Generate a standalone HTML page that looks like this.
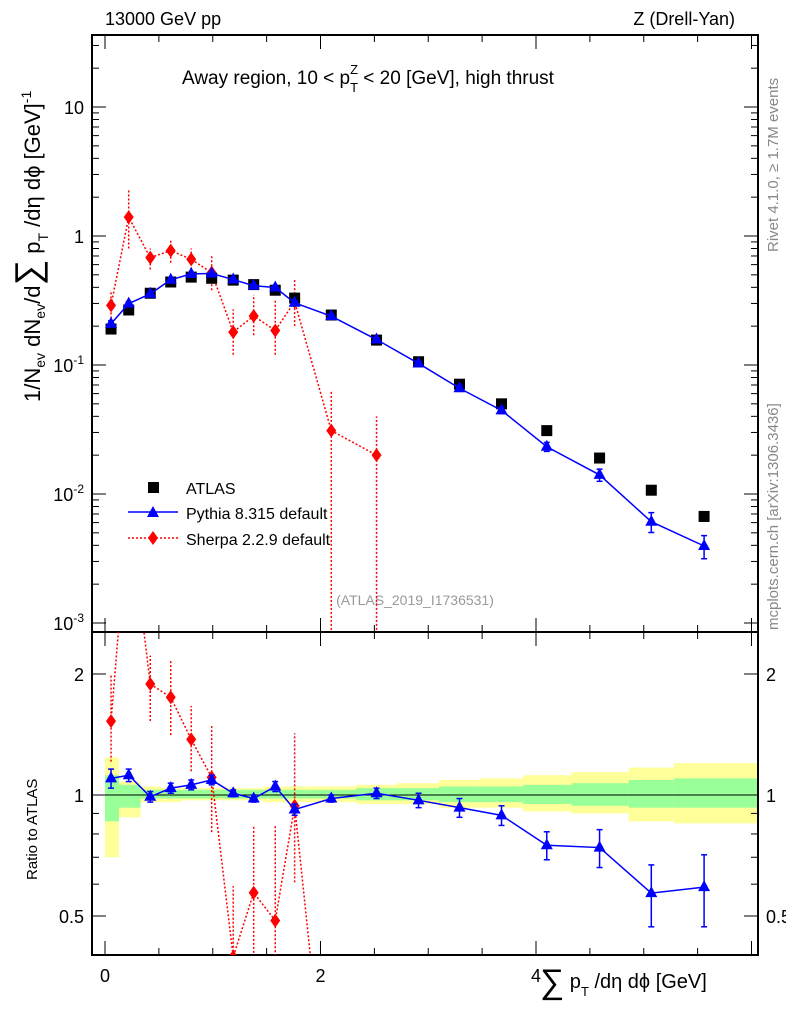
<!DOCTYPE html>
<html><head><meta charset="utf-8"><style>
body{margin:0;background:#fff;overflow:hidden}
svg text{font-family:"Liberation Sans",sans-serif}
</style></head><body>
<svg id="c" width="786" height="1024" xmlns="http://www.w3.org/2000/svg" style="display:block"></svg>
<script>
const xCenters=[0.056,0.22,0.42,0.61,0.80,0.99,1.19,1.38,1.58,1.76,2.10,2.52,2.91,3.29,3.68,4.10,4.59,5.07,5.56];
const atlasVals=[0.19,0.267,0.36,0.44,0.48,0.47,0.455,0.42,0.38,0.33,0.244,0.156,0.106,0.071,0.05,0.031,0.019,0.0107,0.0067];
const pythiaRatio=[1.10,1.12,0.99,1.04,1.06,1.09,1.01,0.98,1.05,0.92,0.98,1.01,0.97,0.93,0.89,0.75,0.74,0.57,0.59];
const pythiaRatioErr=[0.06,0.04,0.03,0.03,0.03,0.03,0.02,0.02,0.03,0.03,0.02,0.03,0.04,0.05,0.05,0.06,0.08,0.1,0.12];
const sherpaVals=[0.29,1.4,0.68,0.77,0.66,0.52,0.18,0.24,0.185,0.31,0.031,0.020];
const sherpaLo=[0.23,0.8,0.55,0.62,0.55,0.38,0.12,0.17,0.12,0.2,0.0005,0.0005];
const sherpaHi=[0.38,2.3,0.8,0.95,0.8,0.7,0.27,0.35,0.32,0.47,0.062,0.04];
const binEdges=[0,0.13,0.33,0.52,0.71,0.9,1.09,1.28,1.47,1.67,1.86,2.33,2.71,3.1,3.48,3.88,4.33,4.86,5.28,6.06];
const greenLo=[0.86,0.93,0.98,0.98,0.98,0.98,0.98,0.98,0.98,0.98,0.98,0.97,0.97,0.96,0.96,0.95,0.94,0.93,0.93];
const greenHi=[1.12,1.06,1.03,1.03,1.03,1.03,1.03,1.03,1.03,1.03,1.03,1.04,1.04,1.05,1.05,1.06,1.07,1.09,1.1];
const yellowLo=[0.70,0.88,0.96,0.96,0.97,0.97,0.97,0.97,0.96,0.96,0.96,0.95,0.95,0.93,0.93,0.91,0.90,0.86,0.85];
const yellowHi=[1.24,1.08,1.05,1.04,1.04,1.04,1.04,1.04,1.05,1.05,1.05,1.06,1.07,1.09,1.1,1.12,1.14,1.17,1.2];

const S=document.getElementById('c');const NS='http://www.w3.org/2000/svg';
function el(t,a,p){const e=document.createElementNS(NS,t);for(const k in a)e.setAttribute(k,a[k]);(p||S).appendChild(e);return e;}
const L=92,R=758,T1=35,B1=632,T2=632,B2=955;
const X=v=>105+v*107.75;
const Y=v=>236-Math.log10(v)*129;
const YR=v=>795-Math.log2(v)*121;
function txt(s,x,y,o){const e=el('text',Object.assign({x:x,y:y,'font-size':18},o||{}));e.textContent=s;return e;}

const bands=el('g',{});

for(let i=0;i<xCenters.length;i++){
 const x0=X(binEdges[i]),x1=Math.min(R,X(binEdges[i+1]));
 el('rect',{x:x0,y:YR(yellowHi[i]),width:x1-x0,height:YR(yellowLo[i])-YR(yellowHi[i]),fill:'#ffff99'},bands);
 el('rect',{x:x0,y:YR(greenHi[i]),width:x1-x0,height:YR(greenLo[i])-YR(greenHi[i]),fill:'#99ff99'},bands);
}
el('line',{x1:L,x2:R,y1:YR(1),y2:YR(1),stroke:'#000','stroke-width':1});

const defs=el('defs',{});
const c1=el('clipPath',{id:'cm'},defs);el('rect',{x:L,y:T1,width:R-L,height:B1-T1},c1);
const c2=el('clipPath',{id:'cr'},defs);el('rect',{x:L,y:T2,width:R-L,height:B2-T2},c2);

for(const [t,b,nm] of [[T1,B1,'main-plot-frame'],[T2,B2,'ratio-plot-frame']]){
 const f=el('rect',{x:L,y:t,width:R-L,height:b-t,fill:'none',stroke:'#000','stroke-width':2});
 
 for(let v=0;v<=6;v+=0.5){const x=X(v);if(x<L||x>R)continue;const len=(v%2===0)?14:7;
  el('line',{x1:x,x2:x,y1:b,y2:b-len,stroke:'#000'});el('line',{x1:x,x2:x,y1:t,y2:t+len,stroke:'#000'});}
}
for(let d=-3;d<=1;d++){for(let m=1;m<10;m++){const v=m*Math.pow(10,d);const y=Y(v);if(y<T1||y>B1)continue;const len=m===1?14:7;
 el('line',{x1:L,x2:L+len,y1:y,y2:y,stroke:'#000'});el('line',{x1:R,x2:R-len,y1:y,y2:y,stroke:'#000'});}}
for(const v of [0.4,0.5,0.6,0.7,0.8,0.9,1,2]){const y=YR(v);const len=(v===0.5||v===1||v===2)?14:7;
 el('line',{x1:L,x2:L+len,y1:y,y2:y,stroke:'#000'});el('line',{x1:R,x2:R-len,y1:y,y2:y,stroke:'#000'});}

const ylab=[['10',1],['1',0]];
for(const [s,d] of ylab){const t=txt(s,84,Y(Math.pow(10,d))+7,{'text-anchor':'end'});}
for(const d of [-1,-2,-3]){const t=el('text',{x:84,y:Y(Math.pow(10,d))+7,'font-size':18,'text-anchor':'end'});
 t.innerHTML='10<tspan dy="-8" font-size="12">'+d+'</tspan>';}
for(const v of [2,1,0.5]){txt(String(v),84,YR(v)+7,{'text-anchor':'end'});txt(String(v),766,YR(v)+7);}
for(const v of [0,2,4]){const t=txt(String(v),X(v),982,{'text-anchor':'middle'});}

txt('13000 GeV pp',105,25);
txt('Z (Drell-Yan)',735,25,{'text-anchor':'end'});
const ti=el('text',{x:182,y:84,'font-size':19});ti.innerHTML='Away region, 10 &lt; p<tspan dy="8" font-size="13">T</tspan><tspan dy="-18" font-size="13" dx="-8">Z</tspan><tspan dy="10"> &lt; 20 [GeV], high thrust</tspan>';

txt('(ATLAS_2019_I1736531)',415,605,{'text-anchor':'middle','font-size':14,fill:'#999'});
const yt=el('text',{transform:'translate(40,402) rotate(-90)','font-size':22});
yt.innerHTML='1/N<tspan dy="5" font-size="14">ev</tspan><tspan dy="-5"> dN</tspan><tspan dy="5" font-size="14">ev</tspan><tspan dy="-5">/d</tspan><tspan font-size="36">∑</tspan><tspan> p</tspan><tspan dy="8" font-size="14">T</tspan><tspan dy="-8"> /dη dϕ  [GeV]</tspan><tspan dy="-9" font-size="14">-1</tspan>';

const rt=txt('Ratio to ATLAS',37,880,{transform:'rotate(-90 37 880)','font-size':15});
const xt=el('text',{x:540,y:993,'font-size':20});
xt.innerHTML='<tspan font-size="34">∑</tspan><tspan dy="-5"> p</tspan><tspan dy="8" font-size="13">T</tspan><tspan dy="-8"> /dη dϕ [GeV]</tspan>';

txt('Rivet 4.1.0, ≥ 1.7M events',778,252,{transform:'rotate(-90 778 252)','font-size':15,fill:'#888'});
txt('mcplots.cern.ch [arXiv:1306.3436]',778,630,{transform:'rotate(-90 778 630)','font-size':15,fill:'#888'});

const gm=el('g',{'clip-path':'url(#cm)'});
const gr=el('g',{'clip-path':'url(#cr)'});
function diamond(g,x,y){el('path',{d:`M${x} ${y-7}L${x+5} ${y}L${x} ${y+7}L${x-5} ${y}Z`,fill:'#f00'},g);}
let sp='',sr='';
for(let i=0;i<sherpaVals.length;i++){const x=X(xCenters[i]);
 sp+=(i?'L':'M')+x+' '+Y(sherpaVals[i]);sr+=(i?'L':'M')+x+' '+YR(sherpaVals[i]/atlasVals[i]);
 el('line',{x1:x,x2:x,y1:Y(sherpaLo[i]),y2:Y(sherpaHi[i]),stroke:'#f00','stroke-dasharray':'2,2','stroke-width':1.5},gm);
 el('line',{x1:x,x2:x,y1:YR(sherpaLo[i]/atlasVals[i]),y2:YR(sherpaHi[i]/atlasVals[i]),stroke:'#f00','stroke-dasharray':'2,2','stroke-width':1.5},gr);}
el('path',{d:sp,fill:'none',stroke:'#f00','stroke-dasharray':'2,2','stroke-width':1.5},gm);
el('path',{d:sr,fill:'none',stroke:'#f00','stroke-dasharray':'2,2','stroke-width':1.5},gr);
for(let i=0;i<sherpaVals.length;i++){const x=X(xCenters[i]);
 const d1=el('g',{},gm);diamond(d1,x,Y(sherpaVals[i]));
 const d2=el('g',{},gr);diamond(d2,x,YR(sherpaVals[i]/atlasVals[i]));}
for(let i=0;i<atlasVals.length;i++){const r=el('rect',{x:X(xCenters[i])-5.5,y:Y(atlasVals[i])-5.5,width:11,height:11,fill:'#000'},gm);
 }
function tri(g,x,y){el('path',{d:`M${x} ${y-7}L${x+6} ${y+4}L${x-6} ${y+4}Z`,fill:'#00f'},g);}
let pp='',pr='';
for(let i=0;i<atlasVals.length;i++){const x=X(xCenters[i]);const v=atlasVals[i]*pythiaRatio[i];
 pp+=(i?'L':'M')+x+' '+Y(v);pr+=(i?'L':'M')+x+' '+YR(pythiaRatio[i]);}
el('path',{d:pp,fill:'none',stroke:'#00f','stroke-width':1.5},gm);
el('path',{d:pr,fill:'none',stroke:'#00f','stroke-width':1.5},gr);
for(let i=0;i<atlasVals.length;i++){const x=X(xCenters[i]);const v=atlasVals[i]*pythiaRatio[i];const e=pythiaRatioErr[i];
 const lo=pythiaRatio[i]-e,hi=pythiaRatio[i]+e;
 for(const [g,yl,yh,yc] of [[gm,Y(atlasVals[i]*lo),Y(atlasVals[i]*hi),Y(v)],[gr,YR(lo),YR(hi),YR(pythiaRatio[i])]]){
  el('line',{x1:x,x2:x,y1:yl,y2:yh,stroke:'#00f','stroke-width':1.5},g);
  el('line',{x1:x-3,x2:x+3,y1:yl,y2:yl,stroke:'#00f','stroke-width':1.5},g);
  el('line',{x1:x-3,x2:x+3,y1:yh,y2:yh,stroke:'#00f','stroke-width':1.5},g);
  const t=el('g',{},g);tri(t,x,yc);}}

const lg=el('g',{});
el('rect',{x:148,y:482,width:11,height:11,fill:'#000'},lg);txt('ATLAS',186,494,{'font-size':16});
el('line',{x1:128,x2:178,y1:512,y2:512,stroke:'#00f','stroke-width':1.5},lg);tri(lg,153,513);txt('Pythia 8.315 default',186,519,{'font-size':16});
el('line',{x1:128,x2:178,y1:538,y2:538,stroke:'#f00','stroke-width':1.5,'stroke-dasharray':'2,2'},lg);diamond(lg,153,538);txt('Sherpa 2.2.9 default',186,545,{'font-size':16});
</script>
</body></html>
